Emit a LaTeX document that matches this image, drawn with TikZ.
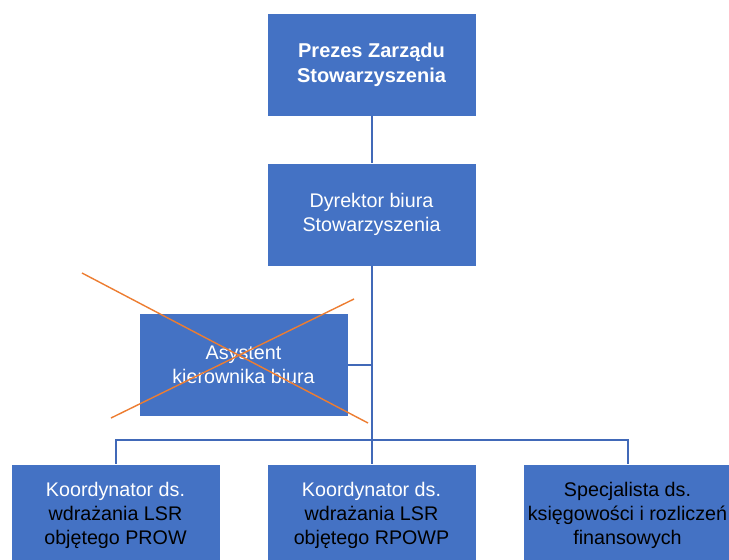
\documentclass[tikz,border=0pt]{standalone}
\usepackage{fontspec}
\setmainfont{Liberation Sans}
\definecolor{boxblue}{HTML}{4472C4}
\definecolor{lineblue}{HTML}{4169B8}
\definecolor{crossorange}{HTML}{ED7D31}
\begin{document}
\begin{tikzpicture}[x=1pt,y=-1pt,
  orgbox/.style={rectangle, fill=boxblue, draw=white, line width=0.6pt,
    minimum width=209pt, minimum height=103pt, inner sep=0pt, align=center,
    font=\fontsize{19.7}{24}\selectfont},
  conn/.style={draw=lineblue, line width=2pt},
  cross/.style={draw=crossorange, line width=1.4pt}]
\useasboundingbox (0,0) rectangle (729,560);
\fill[white] (0,0) rectangle (729,560);
\node[orgbox, text=white, font=\fontsize{20}{25}\selectfont\bfseries] (prezes) at (371.5,64.5) {Prezes Zarządu\\Stowarzyszenia};
\node[orgbox, text=white] (dyrektor) at (371.5,214.5) {Dyrektor biura\\Stowarzyszenia};
\node[orgbox, text=white] (asystent) at (243.5,365) {Asystent\\kierownika biura};
\node[orgbox, text=black] (prow) at (115.5,515.5) {\textcolor{white}{Koordynator ds.}\\wdrażania LSR\\objętego PROW};
\node[orgbox, text=black] (rpowp) at (371.5,515.5) {\textcolor{white}{Koordynator ds.}\\wdrażania LSR\\objętego RPOWP};
\node[orgbox, text=black] (spec) at (627.5,515.5) {Specjalista ds.\\księgowości i rozliczeń\\finansowych};
\coordinate (bar) at (371.5,440);
\coordinate (branch) at (371.5,365);
\draw[conn] (prezes.south) -- (dyrektor.north);
\draw[conn] (dyrektor.south) -- (bar);
\draw[conn] (asystent.east) -- (branch);
\draw[conn] (prow.north) |- (bar) -| (spec.north);
\draw[conn] (bar) -- (rpowp.north);
\coordinate (c1a) at (82,273);
\coordinate (c1b) at (368,423);
\coordinate (c2a) at (111,418);
\coordinate (c2b) at (354,299);
\draw[cross] (c1a) -- (c1b);
\draw[cross] (c2a) -- (c2b);
\end{tikzpicture}
\end{document}
